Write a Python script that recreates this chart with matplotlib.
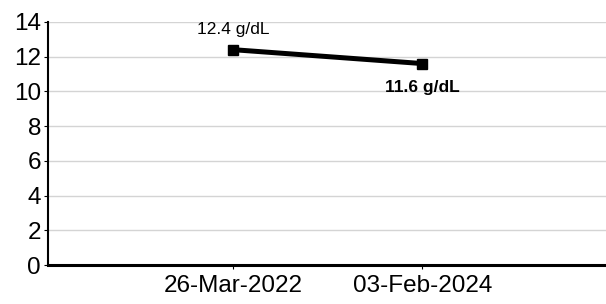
import matplotlib.pyplot as plt

plt.rcParams['font.family'] = ['Liberation Sans', 'DejaVu Sans']

dates = ['26-Mar-2022', '03-Feb-2024']
hb = [12.4, 11.6]
labels = ['12.4 g/dL', '11.6 g/dL']

fig = plt.figure(figsize=(6.06, 3.04), dpi=100)
ax = fig.add_axes([0.079, 0.128, 0.921, 0.8])

x = range(len(dates))
ax.plot(x, hb, color='black', lw=3.6, marker='s', ms=6.5, zorder=3)

ax.annotate(labels[0], (0, hb[0]), xytext=(0, 9), textcoords='offset points',
            ha='center', va='bottom', fontsize=12.5)
ax.annotate(labels[1], (1, hb[1]), xytext=(0, -12), textcoords='offset points',
            ha='center', va='top', fontsize=12.5, fontweight='bold')

ax.set_xlim(-0.98, 1.97)
ax.set_ylim(0, 14)
ax.set_yticks(range(0, 15, 2))
ax.set_xticks(list(x))
ax.set_xticklabels(dates)
ax.tick_params(axis='both', labelsize=17.5, length=3, color='black')
ax.tick_params(axis='x', pad=4)
ax.tick_params(axis='y', pad=2)
ax.yaxis.grid(True, color='#d4d4d4', lw=1)
ax.set_axisbelow(True)

for s in ['top', 'right']:
    ax.spines[s].set_visible(False)
ax.spines['left'].set_linewidth(1.5)
ax.spines['bottom'].set_linewidth(2.2)

fig.savefig('out.png', dpi=100)
